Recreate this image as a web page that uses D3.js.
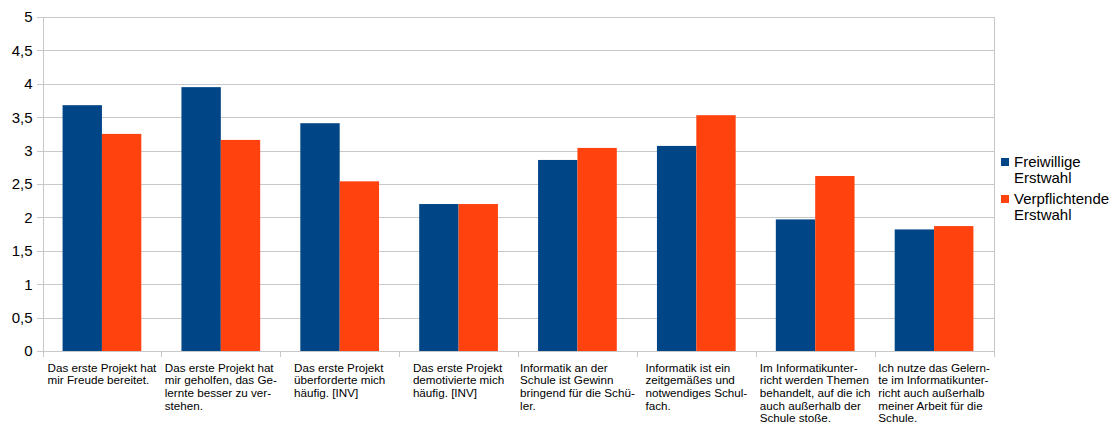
<!DOCTYPE html>
<html>
<head>
<meta charset="utf-8">
<script src="https://cdn.jsdelivr.net/npm/d3@7"></script>
<style>
  body { margin: 0; background: #fff; }
  svg { display: block; }
  text { font-family: "Liberation Sans", Arial, sans-serif; fill: #000; }
</style>
</head>
<body>
<svg id="chart" width="1114" height="428"></svg>
<script>
// Survey statements (pre-hyphenated lines as printed under each group)
const categories = [
  ["Das erste Projekt hat", "mir Freude bereitet."],
  ["Das erste Projekt hat", "mir geholfen, das Ge-", "lernte besser zu ver-", "stehen."],
  ["Das erste Projekt", "überforderte mich", "häufig. [INV]"],
  ["Das erste Projekt", "demotivierte mich", "häufig. [INV]"],
  ["Informatik an der", "Schule ist Gewinn", "bringend für die Schü-", "ler."],
  ["Informatik ist ein", "zeitgemäßes und", "notwendiges Schul-", "fach."],
  ["Im Informatikunter-", "richt werden Themen", "behandelt, auf die ich", "auch außerhalb der", "Schule stoße."],
  ["Ich nutze das Gelern-", "te im Informatikunter-", "richt auch außerhalb", "meiner Arbeit für die", "Schule."]
];

// Mean agreement per statement
const freiwillige    = [3.68, 3.95, 3.41, 2.20, 2.86, 3.07, 1.97, 1.82];
const verpflichtende = [3.25, 3.16, 2.54, 2.20, 3.04, 3.53, 2.62, 1.87];

const seriesLabels = [["Freiwillige", "Erstwahl"], ["Verpflichtende", "Erstwahl"]];
const seriesColors = ["#004586", "#ff420e"];

const yTicks = [0, 0.5, 1, 1.5, 2, 2.5, 3, 3.5, 4, 4.5, 5];

const svg = d3.select("#chart");
const plot = { left: 42.5, right: 993.5, top: 17, bottom: 351 };
const gridColor = "#c8c8c8";

const deLocale = d3.formatLocale({ decimal: ",", thousands: ".", grouping: [3], currency: ["", " €"] });
const fmt = deLocale.format("~g");

const x = d3.scaleBand()
  .domain(d3.range(categories.length))
  .range([plot.left, plot.right])
  .padding(0);

const xInner = d3.scaleBand()
  .domain([0, 1])
  .range([0, x.bandwidth()])
  .paddingInner(0)
  .paddingOuter(0.51);

const y = d3.scaleLinear().domain([0, 5]).range([plot.bottom, plot.top]);

// Horizontal gridlines (drawn from the right edge) with outward ticks and labels
const gy = svg.append("g")
  .attr("transform", `translate(${plot.right},0)`)
  .call(d3.axisLeft(y).tickValues(yTicks).tickSize(plot.right - plot.left + 6).tickFormat(fmt).tickPadding(4));
gy.select(".domain").remove();
gy.selectAll(".tick line")
  .attr("stroke", gridColor)
  .attr("shape-rendering", "crispEdges");
gy.selectAll(".tick text")
  .attr("font-size", 15)
  .attr("fill", "#000")
  .attr("font-family", "Liberation Sans, Arial, sans-serif");

// Vertical frame lines and category separators
const sepX = d3.range(categories.length + 1).map(i => i === categories.length ? plot.right : x(i));
svg.append("g").selectAll("line")
  .data(sepX)
  .join("line")
  .attr("x1", d => Math.round(d) + 0.5)
  .attr("x2", d => Math.round(d) + 0.5)
  .attr("y1", (d, i) => (i === 0 || i === categories.length) ? plot.top : plot.bottom)
  .attr("y2", plot.bottom + 6)
  .attr("stroke", gridColor)
  .attr("shape-rendering", "crispEdges");

// Bars
const series = [freiwillige, verpflichtende];
const groups = svg.append("g").selectAll("g")
  .data(categories.map((c, i) => i))
  .join("g")
  .attr("transform", i => `translate(${x(i)},0)`);

groups.selectAll("rect")
  .data(i => series.map((s, k) => ({ k, v: s[i] })))
  .join("rect")
  .attr("x", d => xInner(d.k))
  .attr("width", xInner.bandwidth())
  .attr("y", d => y(d.v))
  .attr("height", d => y(0) - y(d.v))
  .attr("fill", d => seriesColors[d.k]);

// Category labels: left-aligned lines, block centered under each group
const lineH = 12.7;
categories.forEach((lines, i) => {
  const t = svg.append("text")
    .attr("font-size", 11.67)
    .attr("y", 371.5);
  lines.forEach((ln, j) => {
    t.append("tspan").attr("dy", j === 0 ? 0 : lineH).text(ln);
  });
  let maxW = 0;
  t.selectAll("tspan").each(function () { maxW = Math.max(maxW, this.getComputedTextLength()); });
  const x0 = x(i) + (x.bandwidth() - maxW) / 2;
  t.selectAll("tspan").attr("x", x0);
});

// Legend
const legend = svg.append("g");
const legendTop = [162, 199];
seriesLabels.forEach((lines, k) => {
  legend.append("rect")
    .attr("x", 1001).attr("y", legendTop[k] - 4)
    .attr("width", 8).attr("height", 8)
    .attr("fill", seriesColors[k]);
  const t = legend.append("text").attr("font-size", 15).attr("x", 1014).attr("y", legendTop[k] + 5.3);
  lines.forEach((ln, j) => t.append("tspan").attr("x", 1014).attr("dy", j === 0 ? 0 : 16).text(ln));
});
</script>
</body>
</html>
